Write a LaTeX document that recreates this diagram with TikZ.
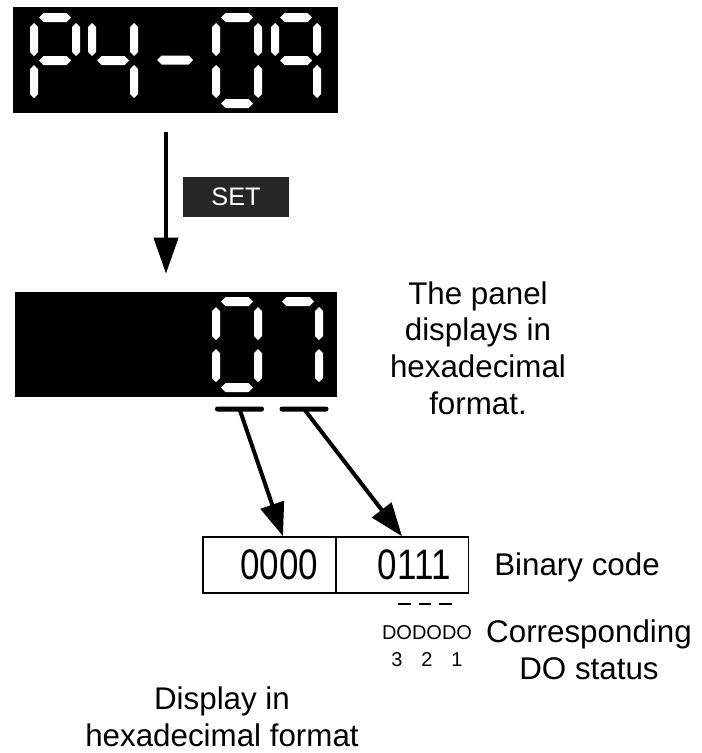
\documentclass[tikz,border=0pt]{standalone}
\usepackage{fontspec}
\setmainfont{Liberation Sans}
\newfontfamily\cellfont[FakeStretch=0.82]{Liberation Sans}
\usetikzlibrary{arrows.meta,positioning,calc}
\definecolor{KeyGrey}{HTML}{262626}

\newcommand{\hseg}[3]{\fill[white] (#1,#3) -- ({#1+4.5},{#3-4.5}) -- ({#2-4.5},{#3-4.5}) -- (#2,#3) -- ({#2-4.5},{#3+4.5}) -- ({#1+4.5},{#3+4.5}) -- cycle;}
\newcommand{\vseg}[3]{\fill[white] (#1,#2) -- ({#1+4},{#2+4}) -- ({#1+4},{#3-4}) -- (#1,#3) -- ({#1-4},{#3-4}) -- ({#1-4},{#2+4}) -- cycle;}
\newcommand{\segA}[2]{\hseg{#1+9}{#1+41}{#2+4.5}}
\newcommand{\segB}[2]{\vseg{#1+46}{#2+10}{#2+43}}
\newcommand{\segC}[2]{\vseg{#1+46}{#2+52}{#2+85}}
\newcommand{\segD}[2]{\hseg{#1+9}{#1+41}{#2+90.5}}
\newcommand{\segE}[2]{\vseg{#1+4}{#2+52}{#2+85}}
\newcommand{\segF}[2]{\vseg{#1+4}{#2+10}{#2+43}}
\newcommand{\segG}[2]{\hseg{#1+9}{#1+41}{#2+47.5}}

\begin{document}
\begin{tikzpicture}[x=0.75pt,y=-0.75pt,
  panel/.style={fill=black,inner sep=0pt},
  setkey/.style={fill=KeyGrey,text=white,inner sep=0pt,minimum width=79.5pt,minimum height=30pt,font=\fontsize{19}{19}\selectfont},
  bigarrow/.style={-{Triangle[length=27pt,width=18pt]},line width=3pt},
  bar/.style={fill=black,rounded corners=1.8pt,inner sep=0pt,minimum width=36.75pt,minimum height=3.75pt},
  tap/.style={-{Triangle[length=25pt,width=18pt]},line width=3pt},
  cell/.style={draw,line width=1.1pt,inner xsep=13.5pt,inner ysep=0pt,minimum height=42pt,text width=72.75pt,align=right,font=\cellfont\fontsize{32}{32}\selectfont},
  note/.style={font=\fontsize{23.5}{27.5}\selectfont,align=center,inner sep=0pt},
  dolabel/.style={font=\fontsize{15}{15}\selectfont,inner sep=0pt}]
\useasboundingbox (0,0) rectangle (702,753);
\node[panel,minimum width=243.75pt,minimum height=79.5pt] (param) at (175.5,60) {};
\segA{30}{13}\segB{30}{13}\segF{30}{13}\segG{30}{13}\segE{30}{13}
\segF{88}{13}\segG{88}{13}\segB{88}{13}\segC{88}{13}
\hseg{157}{193}{60}
\segA{212}{13}\segB{212}{13}\segC{212}{13}\segD{212}{13}\segE{212}{13}\segF{212}{13}
\segA{271}{13}\segB{271}{13}\segC{271}{13}\segF{271}{13}\segG{271}{13}
\node[panel,minimum width=241.5pt,minimum height=78.75pt] (value) at (176,344.5) {};
\segA{212}{297}\segB{212}{297}\segC{212}{297}\segD{212}{297}\segE{212}{297}\segF{212}{297}
\segA{273}{297}\segB{273}{297}\segC{273}{297}
\coordinate (downx) at (166,0);
\draw[bigarrow,shorten <=14.25pt,shorten >=13.5pt] (param.south -| downx) -- (value.north -| downx);
\node[setkey] (setkey) at (236,197) {SET};
\node[bar] (hibar) at (239.5,409) {};
\node[bar] (lobar) at (304,409) {};
\node[cell] (hicell) at (269.5,565) {0000};
\node[cell] (locell) at (402,565) {0111};
\draw[tap] (hibar.center) -- ($(hicell.north)+(13.5,0)$);
\draw[tap] (lobar.center) -- (locell.north);
\draw[line width=1.5pt,dash pattern=on 9.4pt off 6pt] (398,604) -- (452,604);
\node[dolabel] (do3) at (397,633) {DO};
\node[dolabel] (do2) at (427,633) {DO};
\node[dolabel] (do1) at (457,633) {DO};
\node[dolabel] (n3) at (397,660) {3};
\node[dolabel] (n2) at (427,660) {2};
\node[dolabel] (n1) at (457,660) {1};
\node[note] (panelnote) at (478,348) {The panel\\displays in\\hexadecimal\\format.};
\node[note,anchor=west] (bincap) at (494,567) {Binary code};
\node[note] (docap) at (589,650) {Corresponding\\DO status};
\node[note] (dispcap) at (222,717) {Display in\\hexadecimal format};
\end{tikzpicture}
\end{document}
